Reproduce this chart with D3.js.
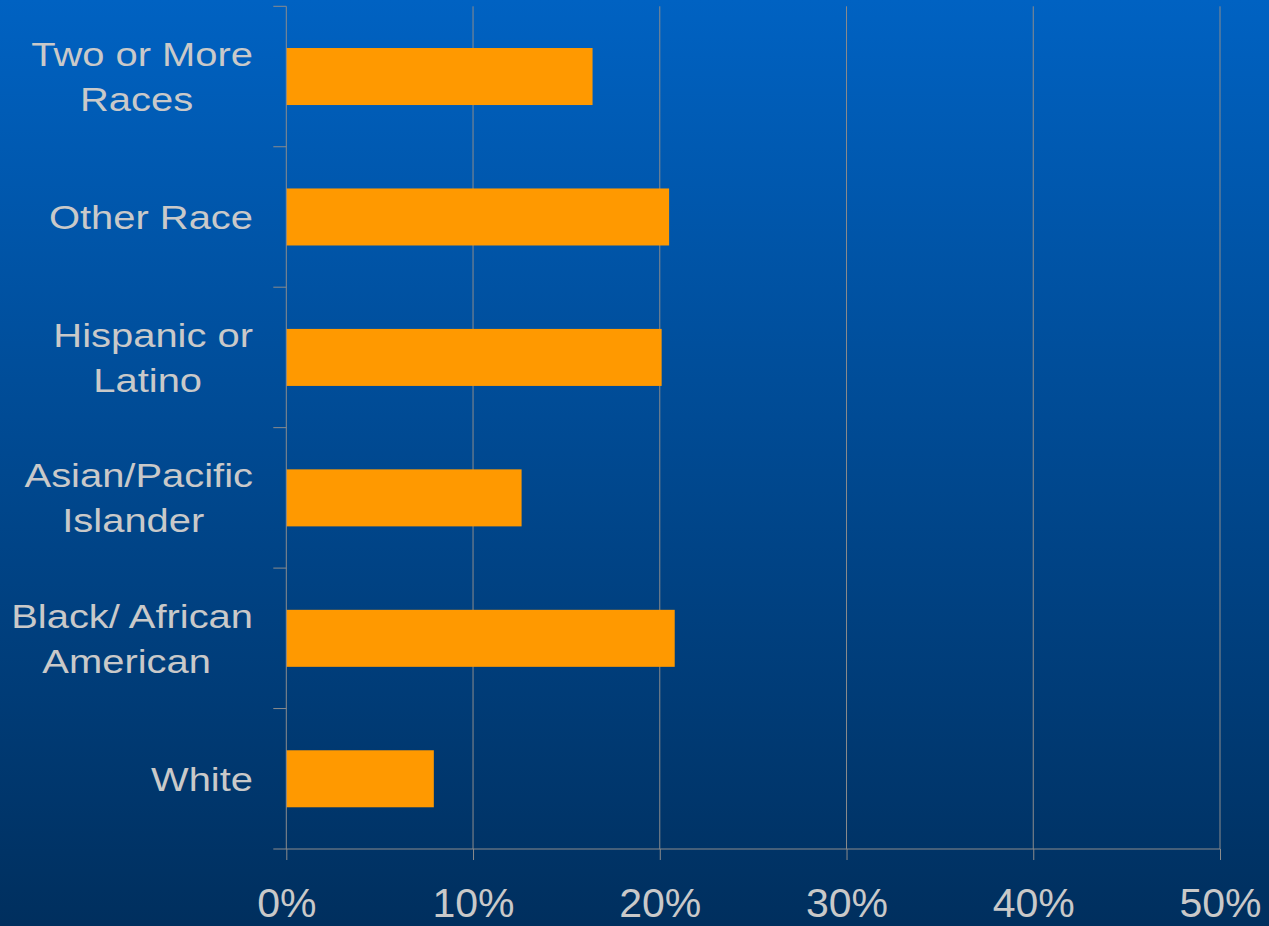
<!DOCTYPE html>
<html>
<head>
<meta charset="utf-8">
<script src="https://cdn.jsdelivr.net/npm/d3@7"></script>
<style>
  html, body { margin: 0; padding: 0; overflow: hidden; }
  svg { display: block; }
</style>
</head>
<body>
<svg id="chart" width="1269" height="926"></svg>
<script>
// Share of each group (percent)
const categories = [
  ["Two or More", "Races"],
  ["Other Race"],
  ["Hispanic or", "Latino"],
  ["Asian/Pacific", "Islander"],
  ["Black/ African", "American"],
  ["White"]
];
const values = [16.4, 20.5, 20.1, 12.6, 20.8, 7.9];
const xTicks = [0, 10, 20, 30, 40, 50];

const W = 1269, H = 926;
const margin = { top: 6.3, left: 286.3, right: 49, bottom: 77 };
const svg = d3.select("#chart");

const defs = svg.append("defs");
const grad = defs.append("linearGradient")
  .attr("id", "bg").attr("x1", 0).attr("y1", 0).attr("x2", 0).attr("y2", 1);
grad.append("stop").attr("offset", "0%").attr("stop-color", "#0062c2");
grad.append("stop").attr("offset", "100%").attr("stop-color", "#002f5e");
svg.append("rect").attr("width", W).attr("height", H).attr("fill", "url(#bg)");

const keys = categories.map(d => d.join(" "));
const x = d3.scaleLinear().domain([0, 50]).range([margin.left, W - margin.right]);
const y = d3.scaleBand().domain(keys)
  .range([margin.top, H - margin.bottom])
  .paddingInner(0.594).paddingOuter(0.297);

const gridColor = "#8c8c8c";
const textColor = "#c9c9c9";
const y0 = margin.top, y1 = H - margin.bottom;

// vertical gridlines
svg.append("g").selectAll("line").data(xTicks.slice(1)).join("line")
  .attr("x1", d => x(d)).attr("x2", d => x(d))
  .attr("y1", y0).attr("y2", y1)
  .attr("stroke", gridColor).attr("stroke-width", 1);

// bars
svg.append("g").selectAll("rect").data(values).join("rect")
  .attr("x", x(0))
  .attr("y", (d, i) => y(keys[i]))
  .attr("width", d => x(d) - x(0))
  .attr("height", y.bandwidth())
  .attr("fill", "#ff9900");

// bottom axis
const xAxis = d3.axisBottom(x).tickValues(xTicks).tickSize(11).tickSizeOuter(0)
  .tickFormat(d => d + "%");
const gx = svg.append("g").attr("transform", `translate(0,${y1})`).call(xAxis);
gx.select(".domain").remove();
gx.selectAll(".tick line").attr("stroke", gridColor);
gx.selectAll(".tick text")
  .attr("y", 68).attr("dy", 0)
  .attr("fill", textColor)
  .style("font-family", "'Liberation Sans', Arial, sans-serif")
  .style("font-size", "41px");
svg.append("line")
  .attr("x1", x(0) - 13).attr("x2", x(50))
  .attr("y1", y1).attr("y2", y1)
  .attr("stroke", gridColor);

// left axis line and category boundary ticks
svg.append("line")
  .attr("x1", x(0)).attr("x2", x(0)).attr("y1", y0).attr("y2", y1)
  .attr("stroke", gridColor);
const step = y.step();
const bounds = d3.range(keys.length).map(i => y0 + i * step);
svg.append("g").selectAll("line").data(bounds).join("line")
  .attr("x1", x(0) - 13).attr("x2", x(0))
  .attr("y1", d => d).attr("y2", d => d)
  .attr("stroke", gridColor);

// category labels
const labelRight = 253, stretch = 1.21, lineGap = 45, capHalf = 12;
const gl = svg.append("g")
  .style("font-family", "'Liberation Sans', Arial, sans-serif")
  .style("font-size", "33px")
  .attr("fill", textColor);
categories.forEach((lines, i) => {
  const cy = y(keys[i]) + y.bandwidth() / 2;
  const n = lines.length;
  let firstCenter = null;
  lines.forEach((t, j) => {
    const by = cy + capHalf + (j - (n - 1) / 2) * lineGap;
    const g = gl.append("g");
    const txt = g.append("text").text(t);
    if (j === 0) {
      txt.attr("text-anchor", "end");
      g.attr("transform", `translate(${labelRight},${by}) scale(${stretch},1)`);
      const w = txt.node().getComputedTextLength() * stretch;
      firstCenter = labelRight - w / 2;
    } else {
      txt.attr("text-anchor", "middle");
      g.attr("transform", `translate(${firstCenter - 5.5},${by}) scale(${stretch},1)`);
    }
  });
});
</script>
</body>
</html>
